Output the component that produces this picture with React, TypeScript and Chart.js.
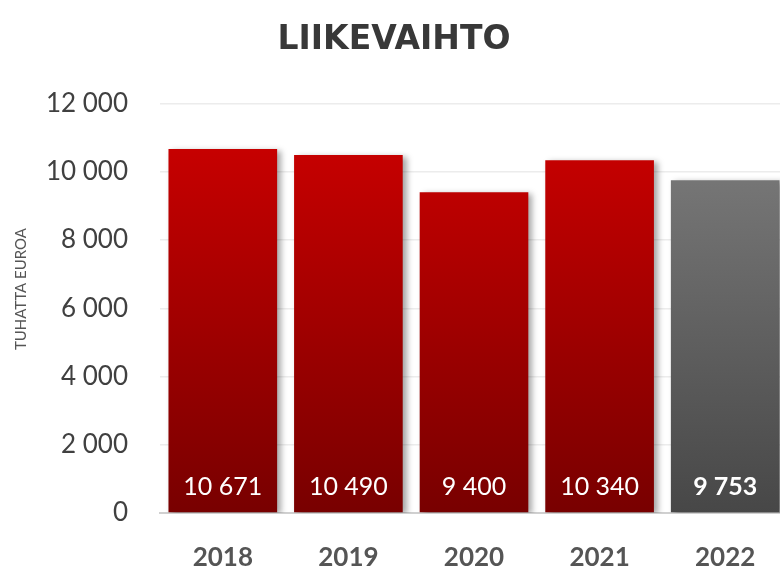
import React, { useEffect, useRef } from "react";
import { Chart, registerables } from "chart.js";

Chart.register(...registerables);

const years = ["2018", "2019", "2020", "2021", "2022"];
const revenue = [10671, 10490, 9400, 10340, 9753];
const highlight = [false, false, false, false, true];
const yTicks = [0, 2000, 4000, 6000, 8000, 10000, 12000];

const fmt = (v: number) => String(v).replace(/\B(?=(\d{3})+(?!\d))/g, " ");

const shadowPlugin = {
  id: "barShadow",
  beforeDatasetsDraw(chart: any) {
    const ctx = chart.ctx;
    ctx.save();
    ctx.shadowColor = "rgba(0,0,0,0.35)";
    ctx.shadowBlur = 6;
    ctx.shadowOffsetX = 4;
    ctx.shadowOffsetY = 2;
  },
  afterDatasetsDraw(chart: any) {
    chart.ctx.restore();
    const ctx = chart.ctx;
    const meta = chart.getDatasetMeta(0);
    const area = chart.chartArea;
    ctx.save();
    ctx.fillStyle = "#ffffff";
    ctx.textAlign = "center";
    ctx.textBaseline = "middle";
    meta.data.forEach((el: any, i: number) => {
      ctx.font = (highlight[i] ? "bold " : "") + "25px Lato";
      ctx.fillText(fmt(revenue[i]), el.x, area.bottom - 26);
    });
    ctx.restore();
  },
};

export default function App() {
  const ref = useRef<HTMLCanvasElement>(null);
  useEffect(() => {
    document.body.style.margin = "0";
    const canvas = ref.current!;
    const chart = new Chart(canvas, {
      type: "bar",
      data: {
        labels: years,
        datasets: [
          {
            data: revenue,
            backgroundColor: (c: any) => {
              const area = c.chart.chartArea;
              if (!area) return "#c00000";
              const g = c.chart.ctx.createLinearGradient(0, area.top, 0, area.bottom);
              if (highlight[c.dataIndex]) {
                g.addColorStop(0, "#808080");
                g.addColorStop(1, "#474747");
              } else {
                g.addColorStop(0, "#d00000");
                g.addColorStop(1, "#780000");
              }
              return g;
            },
            borderWidth: 0,
            categoryPercentage: 0.865,
            barPercentage: 1,
          },
        ],
      },
      options: {
        responsive: false,
        animation: false,
        devicePixelRatio: 1,
        layout: { padding: 0 },
        plugins: {
          legend: { display: false },
          tooltip: { enabled: false },
          title: {
            display: true,
            text: "LIIKEVAIHTO",
            color: "#383838",
            font: { family: "DejaVu Sans", size: 33, weight: "bold" },
            padding: { top: 21, bottom: 43 },
          },
        },
        scales: {
          x: {
            afterFit: (axis: any) => {
              axis.height = 59;
            },
            grid: { display: false, drawTicks: false },
            border: { display: true, color: "#d0d0d0", width: 2 },
            ticks: {
              color: "#555555",
              font: { family: "Lato", size: 26, weight: "bold" },
              padding: 29,
            },
          },
          y: {
            min: 0,
            max: 12000,
            afterBuildTicks: (axis: any) => {
              axis.ticks = yTicks.map((v) => ({ value: v }));
            },
            afterFit: (axis: any) => {
              axis.width = 160;
            },
            grid: { color: "#ececec", lineWidth: 1.5, drawTicks: false },
            border: { display: false },
            ticks: {
              color: "#404040",
              font: { family: "Lato", size: 26 },
              padding: 32,
              callback: (v: any) => fmt(Number(v)),
            },
            title: {
              display: true,
              text: "          TUHATTA EUROA",
              color: "#555555",
              font: { family: "Lato", size: 15 },
              padding: { top: 12, bottom: 0 },
            },
          },
        },
      },
      plugins: [shadowPlugin],
    });
    return () => chart.destroy();
  }, []);
  return (
    <div style={{ position: "absolute", left: 0, top: 0, width: 780, height: 572, overflow: "hidden", background: "#fff" }}>
      <canvas ref={ref} width={788} height={572} style={{ display: "block" }} />
    </div>
  );
}
